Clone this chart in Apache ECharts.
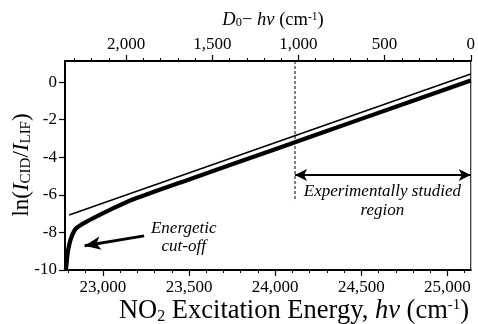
<!DOCTYPE html>
<html><head><meta charset="utf-8">
<script src="https://cdn.jsdelivr.net/npm/echarts@6/dist/echarts.min.js"></script>
<style>html,body{margin:0;padding:0;background:#fff}#c{width:478px;height:324px}</style>
</head><body><div id="c"></div>
<script>
// ---- data ----
const D0 = 25135;                       // dissociation energy (cm-1)
const xMin = 22780, xMax = 25135;
const yMin = -10, yMax = 1.12;
const bottomMajorTicks = [23000, 23500, 24000, 24500, 25000];
const topMajorTicks = [0, 500, 1000, 1500, 2000];
const yTicks = [-10, -8, -6, -4, -2, 0];
const fitLine = [[22804, -7.07], [25135, 0.43]];
const measuredCurve = [[22785, -10], [22791, -9.5], [22798, -8.94], [22818, -8.23], [22846, -7.77],
  [22923, -7.34], [23038, -6.81], [23181, -6.22], [23500, -5.18], [24000, -3.57],
  [24500, -1.96], [25135, 0.08]];
const dashedLine = [[24115, 1.12], [24115, -6.33]];
const studiedArrow = [[24115, -4.95], [25135, -4.95]];
const cutoffArrow = [[23239, -8.19], [22894, -8.71]];
const studiedText = [{ text: 'Experimentally studied', at: [24622, -5.84] }, { text: 'region', at: [24622, -6.81] }];
const cutoffText = [{ text: 'Energetic', at: [23469, -7.82] }, { text: 'cut-off', at: [23469, -8.76] }];

const bottomMinor = [];
for (let v = 22800; v <= 25100; v += 100) bottomMinor.push(v);
const topMinor = [];
for (let v = 0; v <= 2300; v += 100) topMinor.push(v);

const FONT = '"Liberation Serif", "Times New Roman", serif';
const fmt = v => Math.round(v).toLocaleString('en-US');

const chart = echarts.init(document.getElementById('c'), null, { renderer: 'canvas' });
const black = '#000';
chart.setOption({
  animation: false,
  backgroundColor: '#fff',
  grid: { left: 65, right: 2, top: 61, bottom: 54, show: true, borderColor: black, borderWidth: 1, backgroundColor: 'transparent' },
  xAxis: [
    { type: 'value', min: xMin, max: xMax, position: 'bottom',
      axisLine: { onZero: false, lineStyle: { color: black, width: 2 } },
      axisTick: { customValues: bottomMinor, length: 3, lineStyle: { color: black, width: 1 } },
      axisLabel: { customValues: bottomMajorTicks, formatter: fmt, fontFamily: FONT, fontSize: 17, color: black, margin: 9 },
      splitLine: { show: false } },
    { type: 'value', min: xMin, max: xMax, position: 'bottom',
      axisLine: { show: false, onZero: false },
      axisTick: { customValues: bottomMajorTicks, length: 6, lineStyle: { color: black, width: 1.2 } },
      axisLabel: { show: false }, splitLine: { show: false } },
    { type: 'value', min: 0, max: D0 - xMin, inverse: true, position: 'top',
      axisLine: { onZero: false, lineStyle: { color: black, width: 2 } },
      axisTick: { customValues: topMinor, length: 3, lineStyle: { color: black, width: 1 } },
      axisLabel: { customValues: topMajorTicks, formatter: fmt, fontFamily: FONT, fontSize: 17, color: black, margin: 8 },
      splitLine: { show: false } },
    { type: 'value', min: 0, max: D0 - xMin, inverse: true, position: 'top',
      axisLine: { show: false, onZero: false },
      axisTick: { customValues: topMajorTicks, length: 6, lineStyle: { color: black, width: 1.2 } },
      axisLabel: { show: false }, splitLine: { show: false } }
  ],
  yAxis: [
    { type: 'value', min: yMin, max: yMax,
      axisLine: { show: true, onZero: false, lineStyle: { color: black, width: 2 } },
      axisTick: { show: true, customValues: yTicks, length: 6, lineStyle: { color: black, width: 1.2 } },
      axisLabel: { customValues: yTicks, fontFamily: FONT, fontSize: 17, color: black, margin: 8 },
      splitLine: { show: false } }
  ],
  series: [
    { type: 'line', data: fitLine, symbol: 'none', lineStyle: { color: black, width: 1.6 }, silent: true },
    { type: 'line', data: measuredCurve, symbol: 'none', smooth: 0.3, lineStyle: { color: black, width: 4.2 }, silent: true },
    { type: 'line', data: dashedLine, symbol: 'none', lineStyle: { color: black, width: 1, type: [3, 2] }, silent: true,
      markLine: { silent: true, animation: false, label: { show: false },
        data: [
          [{ coord: studiedArrow[0], symbol: 'arrow' }, { coord: studiedArrow[1], symbol: 'arrow' }],
        ],
        symbolSize: [9, 12], lineStyle: { color: black, width: 2, type: 'solid' } } },
    { type: 'line', data: [], symbol: 'none',
      markLine: { silent: true, animation: false, label: { show: false },
        data: [[{ coord: cutoffArrow[0], symbol: 'none' }, { coord: cutoffArrow[1], symbol: 'arrow' }]],
        symbolSize: [10, 16], lineStyle: { color: black, width: 2.8, type: 'solid' } } }
  ]
});

const px = c => chart.convertToPixel({ xAxisIndex: 0, yAxisIndex: 0 }, c);
const annot = [...studiedText, ...cutoffText].map(t => {
  const p = px(t.at);
  return { type: 'text', x: p[0], y: p[1], silent: true,
    style: { text: t.text, fill: black, font: 'italic 17px ' + FONT, align: 'center', verticalAlign: 'middle' } };
});
annot.push({
  type: 'text', x: 294, y: 311, silent: true,
  style: { text: 'NO{sub|2} Excitation Energy, {i|hν} (cm{sup|-1})', fill: black, fontFamily: FONT, fontSize: 26.5,
    align: 'center', verticalAlign: 'middle',
    rich: { sub: { fontFamily: FONT, fontSize: 16, verticalAlign: 'bottom', lineHeight: 16 },
            sup: { fontFamily: FONT, fontSize: 15, verticalAlign: 'top', lineHeight: 15 },
            i: { fontFamily: FONT, fontSize: 26.5, fontStyle: 'italic' } } }
});
annot.push({
  type: 'text', x: 273, y: 20, silent: true,
  style: { text: '{i|D}{sub|0}− {i|hν} (cm{sup|-1})', fill: black, fontFamily: FONT, fontSize: 18.5,
    align: 'center', verticalAlign: 'middle',
    rich: { sub: { fontFamily: FONT, fontSize: 12.5, verticalAlign: 'bottom', lineHeight: 12.5 },
            sup: { fontFamily: FONT, fontSize: 11.5, verticalAlign: 'top', lineHeight: 11.5 },
            i: { fontFamily: FONT, fontSize: 18.5, fontStyle: 'italic' } } }
});
annot.push({
  type: 'text', x: 22, y: 165, rotation: Math.PI / 2, silent: true,
  style: { text: 'ln({i|I}{sub|CID}/{i|I}{sub|LIF})', fill: black, fontFamily: FONT, fontSize: 23,
    align: 'center', verticalAlign: 'middle',
    rich: { sub: { fontFamily: FONT, fontSize: 15, verticalAlign: 'bottom', lineHeight: 15 },
            i: { fontFamily: FONT, fontSize: 23, fontStyle: 'italic' } } }
});
chart.setOption({ graphic: annot });
</script>
</body></html>
